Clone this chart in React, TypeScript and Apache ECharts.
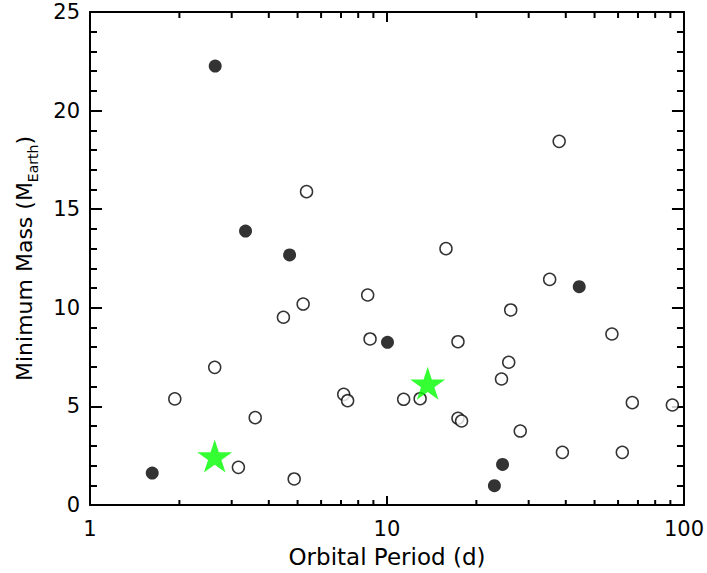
import React, { useEffect, useRef } from "react";
import * as echarts from "echarts";

// Orbital period (d) and minimum mass (M_Earth)
const filledPeriod = [1.62, 2.64, 3.34, 4.7, 10.04, 44.4, 24.5, 23.0];
const filledMass = [1.62, 22.26, 13.89, 12.68, 8.25, 11.07, 2.06, 0.98];

const openPeriod = [
  1.93, 2.63, 3.6, 3.16, 4.48, 5.22, 4.87, 7.15, 7.37, 5.36, 15.8, 38.0, 35.3,
  8.61, 8.77, 11.38, 12.93, 17.34, 17.34, 17.83, 26.1, 25.7, 24.3, 28.1, 38.97,
  57.2, 62.0, 67.0, 91.4,
];
const openMass = [
  5.38, 6.98, 4.43, 1.91, 9.52, 10.19, 1.32, 5.61, 5.29, 15.89, 13.0, 18.44,
  11.44, 10.65, 8.42, 5.36, 5.39, 8.28, 4.4, 4.26, 9.89, 7.24, 6.39, 3.75, 2.67,
  8.67, 2.67, 5.19, 5.07,
];

const starPeriod = [2.63, 13.71];
const starMass = [2.48, 6.17];

const xTickLabels = ["1", "10", "100"];
const xMinorTicks = [2, 3, 4, 5, 6, 7, 8, 9, 20, 30, 40, 50, 60, 70, 80, 90];

const STAR =
  "path://M0,-1 L0.2245,-0.309 L0.951,-0.309 L0.363,0.118 L0.588,0.809 L0,0.382 L-0.588,0.809 L-0.363,0.118 L-0.951,-0.309 L-0.2245,-0.309 Z";

const FONT = "DejaVu Sans, Verdana, sans-serif";

export default function App() {
  const ref = useRef<HTMLDivElement>(null);
  useEffect(() => {
    if (!ref.current) return;
    const chart = echarts.init(ref.current, null, { renderer: "svg" });
    const yCommon = {
      type: "value" as const,
      min: 0,
      max: 25,
      interval: 5,
      splitLine: { show: false },
      axisLine: { show: true, onZero: false, lineStyle: { color: "#000", width: 2 } },
      axisTick: { show: true, inside: true, length: 12, lineStyle: { color: "#000", width: 2 } },
      minorTick: { show: true, splitNumber: 5, length: 7, lineStyle: { color: "#000", width: 2 } },
    };
    const xCommon = {
      type: "log" as const,
      logBase: 10,
      min: 1,
      max: 100,
      splitLine: { show: false },
      axisLine: { show: true, onZero: false, lineStyle: { color: "#000", width: 2 } },
      axisTick: { show: true, inside: true, length: 9, lineStyle: { color: "#000", width: 2 } },
    };
    chart.setOption({
      animation: false,
      backgroundColor: "#fff",
      grid: { left: 85, top: 12, right: 21, bottom: 68, containLabel: false },
      xAxis: [
        {
          ...xCommon,
          position: "bottom",
          name: "Orbital Period (d)",
          nameLocation: "middle",
          nameGap: 40,
          nameTextStyle: { fontFamily: FONT, fontSize: 23, color: "#000" },
          axisLabel: {
            show: true,
            margin: 13,
            fontFamily: FONT,
            fontSize: 21,
            color: "#000",
            formatter: (v: number) => {
              const i = Math.round(Math.log10(v));
              return xTickLabels[i] ?? "";
            },
          },
        },
        {
          ...xCommon,
          position: "top",
          axisTick: { show: true, inside: true, length: 10, lineStyle: { color: "#000", width: 2 } },
          axisLabel: { show: false },
        },
      ],
      yAxis: [
        {
          ...yCommon,
          position: "left",
          name: "Minimum Mass (M{sub|Earth})",
          nameLocation: "middle",
          nameGap: 50,
          nameRotate: 90,
          nameTextStyle: {
            fontFamily: FONT,
            fontSize: 22,
            color: "#000",
            lineHeight: 32,
            rich: {
              sub: {
                fontFamily: FONT,
                fontSize: 14,
                color: "#000",
                lineHeight: 14,
                verticalAlign: "bottom",
              },
            },
          },
          axisLabel: { show: true, margin: 10, fontFamily: FONT, fontSize: 21, color: "#000" },
        },
        {
          ...yCommon,
          position: "right",
          axisLabel: { show: false },
        },
      ],
      series: [
        {
          type: "custom",
          xAxisIndex: 0,
          yAxisIndex: 0,
          data: xMinorTicks.map((v) => [v, 0]),
          silent: true,
          clip: false,
          renderItem: (params: any, api: any) => {
            const v = api.value(0);
            const b = api.coord([v, 0]);
            const t = api.coord([v, 25]);
            const style = { stroke: "#000", lineWidth: 2 };
            return {
              type: "group",
              children: [
                { type: "line", shape: { x1: b[0], y1: b[1], x2: b[0], y2: b[1] - 5 }, style },
                { type: "line", shape: { x1: t[0], y1: t[1], x2: t[0], y2: t[1] + 6 }, style },
              ],
            };
          },
        },
        {
          type: "scatter",
          data: openPeriod.map((p, i) => [p, openMass[i]]),
          symbol: "circle",
          symbolSize: 12,
          itemStyle: { color: "#fff", borderColor: "#000", borderWidth: 1.5 },
        },
        {
          type: "scatter",
          data: filledPeriod.map((p, i) => [p, filledMass[i]]),
          symbol: "circle",
          symbolSize: 13,
          itemStyle: { color: "#000" },
        },
        {
          type: "scatter",
          data: starPeriod.map((p, i) => [p, starMass[i]]),
          symbol: STAR,
          symbolSize: [35, 33],
          itemStyle: { color: "#00ff00" },
        },
      ],
    });
    return () => chart.dispose();
  }, []);
  return (
    <div
      ref={ref}
      style={{ position: "fixed", left: 0, top: 0, width: 707, height: 573 }}
    />
  );
}
